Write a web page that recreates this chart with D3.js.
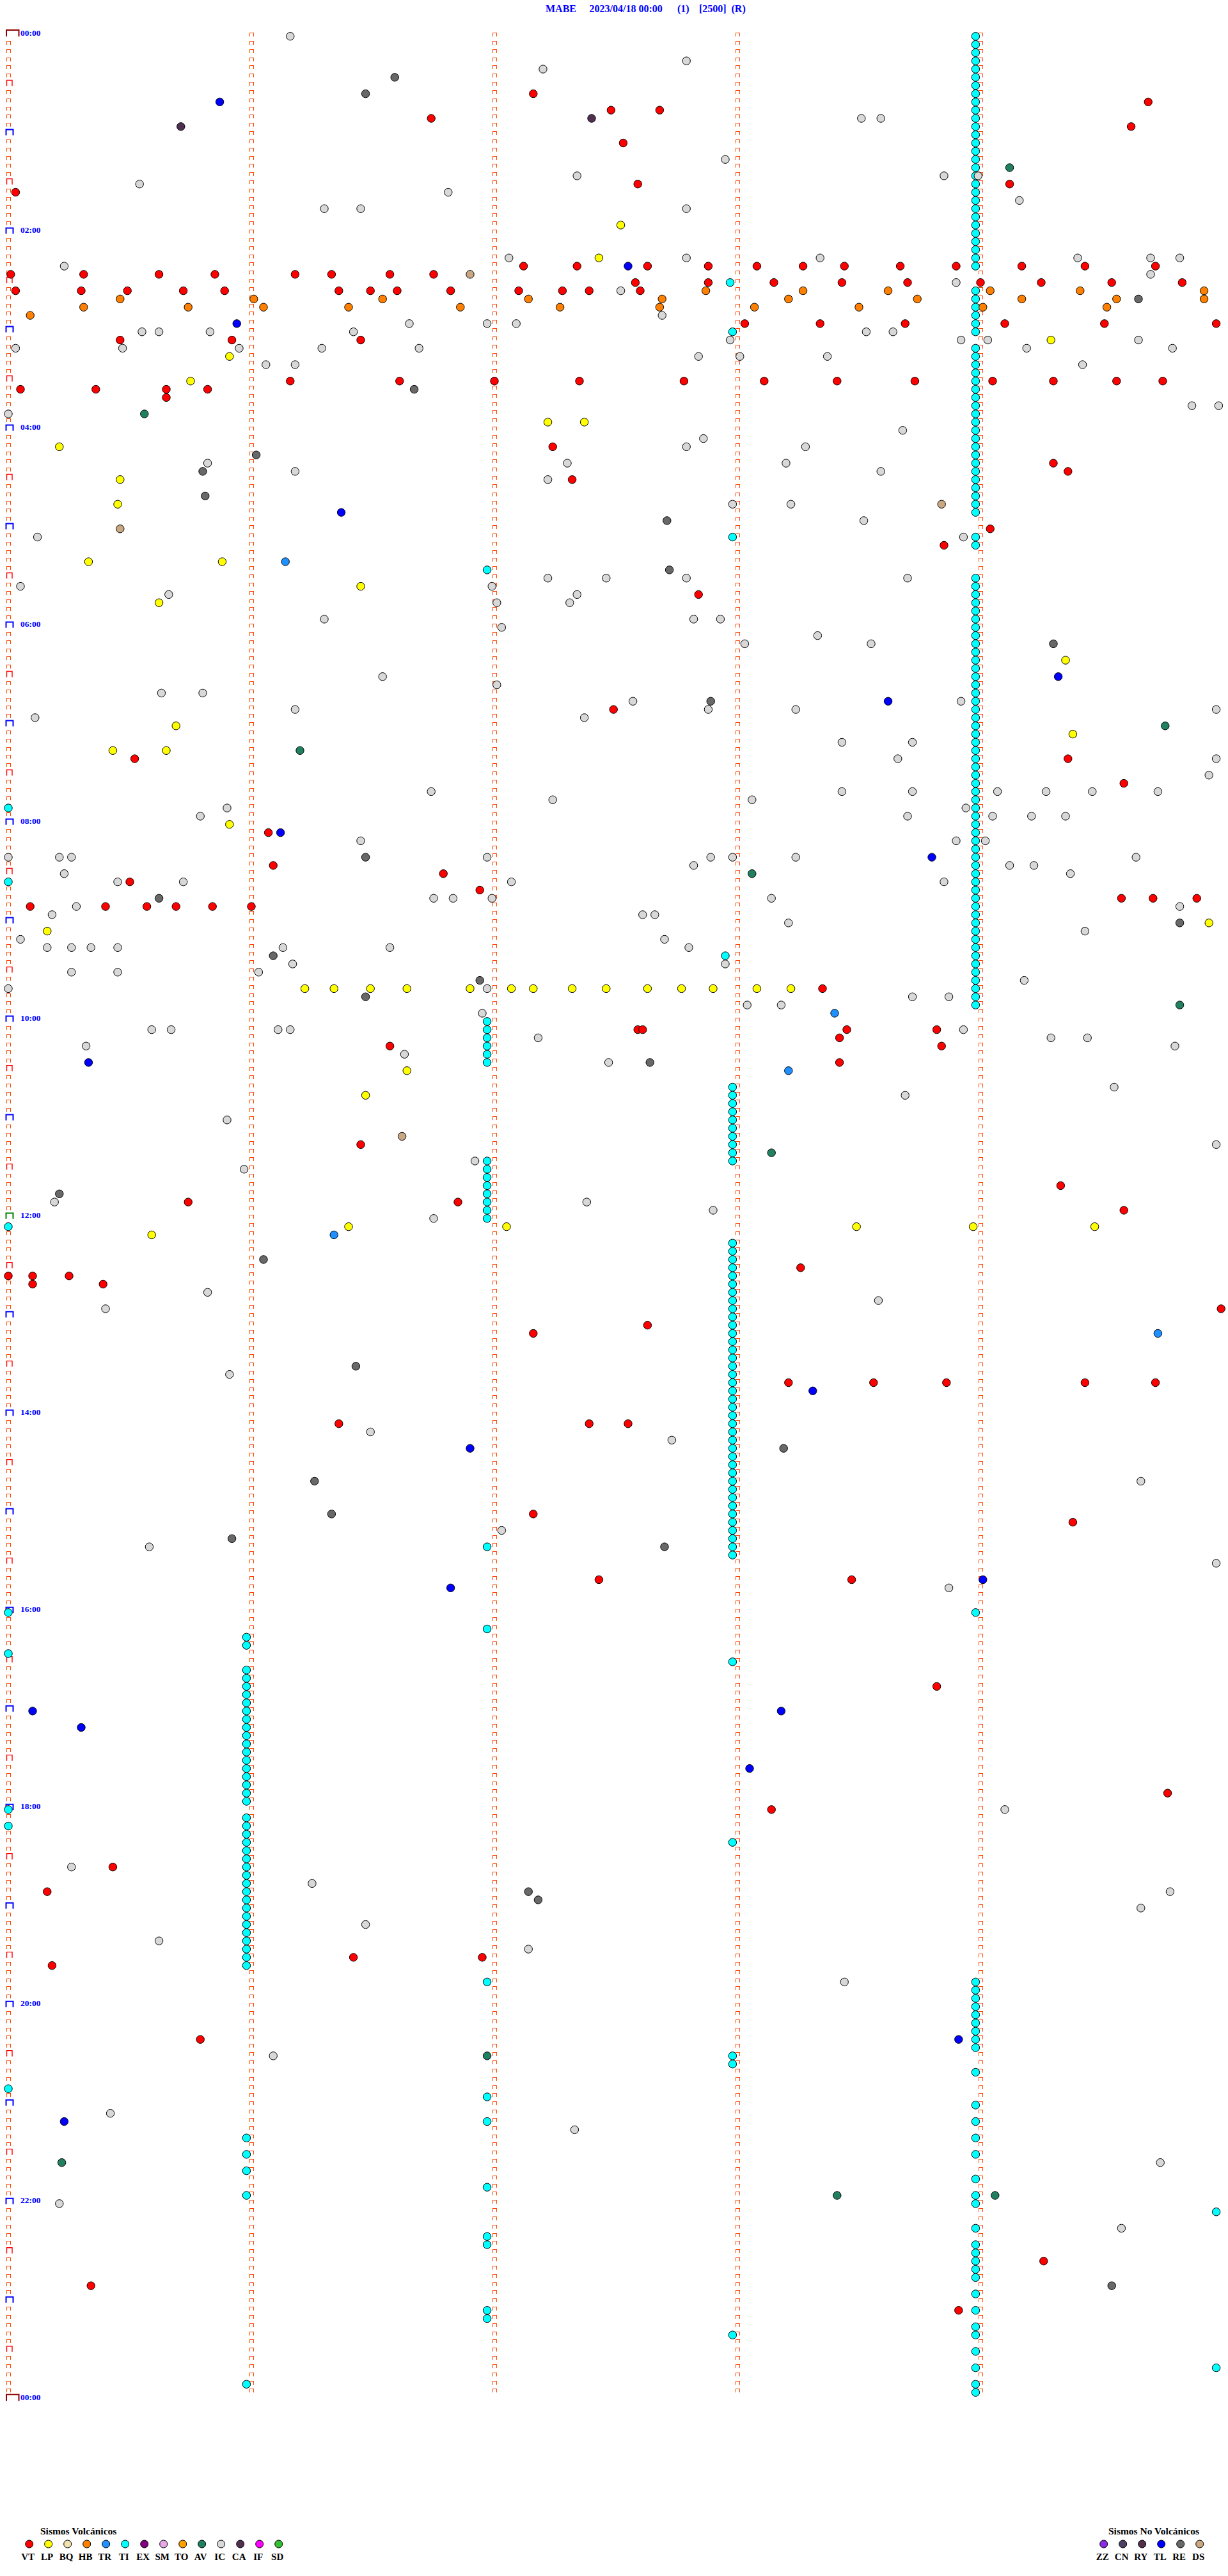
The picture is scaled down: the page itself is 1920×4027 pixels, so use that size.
<!DOCTYPE html>
<html><head><meta charset="utf-8">
<script src="https://cdn.jsdelivr.net/npm/d3@7"></script>
<style>html,body{margin:0;padding:0;background:#fff}svg{display:block}</style>
</head><body>
<script>
// ---------------- data ----------------
const titleParts = ["MABE", "2023/04/18 00:00", "(1)", "[2500]", "(R)"];
const hourLabels = ["00:00","02:00","04:00","06:00","08:00","10:00","12:00","14:00","16:00","18:00","20:00","22:00","00:00"];
const volcanicTypes  = ["VT","LP","BQ","HB","TR","TI","EX","SM","TO","AV","IC","CA","IF","SD"];
const volcanicColors = ["#FF0000","#FFFF00","#F2E2B0","#FF8000","#1E90FF","#00FFFF","#800080","#E8A8E8","#FFA000","#208060","#D8D8D8","#503050","#FF00FF","#30C030"];
const nonVolcanicTypes  = ["ZZ","CN","RY","TL","RE","DS"];
const nonVolcanicColors = ["#8A2BE2","#504060","#503048","#0000FF","#686868","#C8A882"];

// event times, in minutes after 00:00 (each chart row holds 5 minutes)
const VT = [37.16,44.69,47.48,47.68,51.74,59.62,67.53,92.59,94.12,95.03,
 142.12,142.34,142.63,142.88,143.08,143.27,143.44,143.67,143.90,144.17,144.43,144.72,
 145.01,145.31,145.62,145.85,146.18,146.33,146.57,146.75,
 152.58,152.88,153.15,153.43,153.70,154.00,154.25,154.54,154.83,
 155.03,155.30,155.49,155.72,155.89,156.36,156.49,156.60,156.82,157.10,157.28,157.39,157.60,
 178.03,178.34,178.69,179.10,179.51,179.97,185.46,185.92,186.45,
 211.16,211.61,212.00,212.35,212.78,213.11,213.41,213.73,214.05,214.30,214.56,214.75,
 215.05,215.36,215.65,215.82,220.65,252.24,272.32,264.30,269.36,
 304.04,313.85,342.84,412.49,444.36,440.52,459.59,
 486.07,506.09,511.79,521.94,515.50,530.09,530.40,530.57,530.69,530.84,531.00,529.58,529.71,529.89,
 583.35,607.59,607.61,608.45,608.82,613.42,616.57,618.84,628.42,
 676.45,704.33,710.74,711.85,719.59,753.26,755.00,755.10,755.25,760.10,760.39,779.99,787.63,792.16,
 823.21,823.56,823.86,824.43,824.72,846.36,847.39,847.55,902.16,909.38,942.43,943.47,
 1008.82,1074.77,1083.14,1115.43,1130.16,1171.42,1171.95,1175.18,1220.79,1359.26,1370.34,1388.91];
const LP = [117.52,137.43,189.29,195.91,210.75,237.22,237.37,250.21,270.46,285.45,320.33,320.88,336.45,345.62,
 384.35,420.69,429.38,435.43,435.65,480.91,545.16,544.94,
 581.22,581.34,581.49,581.64,581.90,582.07,582.16,582.32,582.46,582.63,582.77,582.90,583.08,583.22,
 631.64,646.47,726.40,727.05,728.49,728.97,729.47,730.59];
const BQ = [];
const HB = [157.87,158.27,158.62,159.04,159.41,159.92,160.46,161.01,161.54,162.14,162.69,163.21,163.74,164.17,164.56,164.92,
 165.31,165.74,166.05,166.40,166.86,167.27,167.68,168.07,168.50,169.01,169.52,170.09];
const TR = [321.14,598.40,633.21,731.34,794.73];
const TI = [3.98,8.98,13.98,18.98,23.98,28.98,33.98,38.98,43.98,48.98,53.98,58.98,63.98,68.98,73.98,78.98,83.98,88.98,93.98,98.98,
 103.98,108.98,113.98,118.98,123.98,128.98,133.98,138.98,143.98,
 158.98,163.98,168.98,173.98,178.98,183.98,
 193.98,198.98,203.98,208.98,213.98,218.98,223.98,228.98,233.98,238.98,243.98,248.98,253.98,258.98,263.98,268.98,273.98,278.98,283.98,288.98,293.98,
 308.98,313.98,
 333.98,338.98,343.98,348.98,353.98,358.98,363.98,368.98,373.98,378.98,383.98,388.98,393.98,398.98,403.98,408.98,413.98,418.98,423.98,428.98,
 433.98,438.98,443.98,448.98,453.98,458.98,463.98,468.98,473.98,478.98,483.98,488.98,493.98,498.98,503.98,508.98,513.98,518.98,523.98,528.98,
 533.98,538.98,543.98,548.98,553.98,558.98,563.98,568.98,573.98,578.98,583.98,588.98,593.98,
 963.98,1188.98,1193.98,1198.98,1203.98,1208.98,1213.98,1218.98,1223.98,1228.98,
 1243.98,1263.98,1273.98,1283.98,1293.98,1308.98,1318.98,1323.98,1338.98,1348.98,1353.98,1358.98,1363.98,1368.98,1378.98,1388.98,1398.98,1403.98,1413.98,1423.98,1433.98,1438.98,
 152.97,182.98,307.98,562.95,
 642.98,647.98,652.98,657.98,662.98,667.98,672.98,677.98,682.98,687.98,
 737.98,742.98,747.98,752.98,757.98,762.98,767.98,772.98,777.98,782.98,787.98,792.98,797.98,802.98,807.98,812.98,817.98,822.98,827.98,832.98,
 837.98,842.98,847.98,852.98,857.98,862.98,867.98,872.98,877.98,882.98,887.98,892.98,897.98,902.98,907.98,912.98,917.98,922.98,927.98,
 992.98,1102.98,1232.98,1237.98,1402.98,
 326.97,601.97,606.97,611.97,616.97,621.97,626.97,686.97,691.97,696.97,701.97,706.97,711.97,716.97,721.97,
 921.97,971.97,1186.97,1256.97,1271.97,1311.97,1341.97,1346.97,1386.97,1391.97,
 975.98,980.98,995.98,1000.98,1005.98,1010.98,1015.98,1020.98,1025.98,1030.98,1035.98,1040.98,1045.98,1050.98,1055.98,1060.98,1065.98,1070.98,1075.98,
 1085.98,1090.98,1095.98,1100.98,1105.98,1110.98,1115.98,1120.98,1125.98,1130.98,1135.98,1140.98,1145.98,1150.98,1155.98,1160.98,1165.98,1170.98,1175.98,
 1280.98,1290.98,1300.98,1315.98,1430.98,
 470.00,515.00,725.00,960.00,985.00,1080.00,1090.00,1250.00,1329.97,1424.97];
const EX = [];
const SM = [];
const TO = [];
const AV = [84.12,230.56,424.76,436.20,513.06,594.82,683.14,1231.97,1295.22,1318.41,1319.06];
const IC = [1.16,17.79,22.20,53.51,53.59,77.95,87.34,88.85,88.99,90.54,96.81,104.16,106.30,106.45,107.79,
 137.06,137.79,138.34,139.40,139.70,139.82,140.23,149.70,153.90,157.52,
 172.69,176.65,176.97,177.09,180.55,180.62,180.83,181.42,183.53,183.64,187.97,188.92,189.03,189.65,
 190.03,190.47,190.95,191.29,191.69,194.19,194.79,197.84,198.01,198.37,201.06,201.18,204.42,
 229.87,229.98,230.00,243.68,247.86,252.79,253.28,260.82,262.30,263.20,266.18,268.59,272.22,
 287.98,288.22,298.52,305.12,308.93,332.22,332.46,332.79,333.70,335.05,336.99,340.66,342.34,347.01,347.31,356.30,357.82,357.93,362.03,368.33,373.03,373.55,
 391.54,397.01,400.63,400.80,407.57,408.92,411.18,412.88,413.24,414.97,415.11,417.37,433.43,433.72,443.66,444.97,454.94,
 461.74,463.43,463.72,464.07,464.27,464.46,464.73,467.24,468.06,470.90,473.94,475.79,478.70,479.05,479.21,479.35,
 491.45,493.90,494.02,500.00,500.21,500.26,501.97,502.89,502.98,503.24,504.64,507.82,509.12,509.22,510.23,514.37,515.45,515.72,517.07,518.85,
 526.75,526.83,526.99,528.14,530.28,534.82,535.18,537.61,537.66,543.21,549.43,550.05,552.70,555.16,555.26,555.34,555.45,556.13,556.57,557.80,
 566.17,567.95,570.26,570.45,571.03,579.18,580.00,581.97,588.72,588.87,593.04,593.18,596.95,
 605.59,605.67,606.11,606.16,608.93,612.18,614.29,614.44,615.32,619.80,621.63,627.47,644.55,648.69,660.90,679.97,686.92,690.97,710.19,712.38,717.90,721.75,
 765.82,773.58,775.40,815.91,851.49,857.73,884.66,912.03,920.58,934.97,948.87,
 1084.10,1115.26,1126.25,1134.78,1144.66,1151.47,1160.62,1167.14,1188.44,1231.09,1265.42,1277.33,1299.74,1320.21,1339.58];
const CA = [52.40,55.71];
const IF = [];
const SD = [];
const ZZ = [];
const CN = [];
const RY = [];
const TL = [40.87,142.55,175.94,291.37,394.32,408.62,486.12,503.80,625.33,828.31,861.90,944.01,946.82,1020.10,1023.18,1030.30,1058.05,1223.91,1270.23];
const RE = [26.59,36.47,164.65,216.67,256.02,265.80,280.81,297.71,327.72,374.30,407.89,501.47,525.62,544.82,561.09,576.94,586.47,627.64,
 705.21,746.05,811.43,863.19,881.26,901.33,915.92,922.70,1132.14,1137.18,1374.54];
const DS = [146.90,288.84,300.46,671.62];

// ---------------- layout ----------------
const W = 1920, H = 4027;
const ROWS = 288, ROW_MIN = 5;
const svg = d3.select("body").append("svg").attr("width", W).attr("height", H)
  .attr("viewBox", `0 0 ${W} ${H}`).style("background", "#fff");
svg.append("rect").attr("width", W).attr("height", H).attr("fill", "#fff");

const x = d3.scaleLinear().domain([0, ROW_MIN]).range([13, 13 + 380 * ROW_MIN]);   // minutes inside a row
const yc = d3.scaleLinear().domain([0, ROWS]).range([56.7, 56.7 + 12.834 * ROWS]); // row centre
const markTop = r => yc(r) - 5.2;

// title
const titleX = [853, 921.5, 1059, 1093, 1143.5];
svg.append("g").selectAll("text").data(titleParts).join("text")
  .attr("x", (d, i) => titleX[i]).attr("y", 18.5)
  .attr("font-family", "'Liberation Serif','Times New Roman',serif").attr("font-weight", "bold")
  .attr("font-size", 16).attr("fill", "#0000FF").text(d => d);

// minute markers
const gM = svg.append("g").attr("fill", "none");
const cols = d3.range(0, ROW_MIN);
let small = "";
for (let r = 0; r < ROWS; r++) {
  for (const k of cols) {
    if (k === 0 && r % 6 === 0) continue;
    const cx = x(k), t = markTop(r);
    small += `M${cx - 3},${t + 5.5}V${t}H${cx + 3}V${t + 5.5}`;
  }
}
gM.append("path").attr("d", small).attr("stroke", "#FF4500").attr("stroke-width", 1).attr("shape-rendering", "crispEdges");
// half-hour & hour brackets on the first column
for (let r = 6; r < ROWS; r += 6) {
  const cx = x(0), t = markTop(r) - 3;
  const hour = r % 12 === 0;
  gM.append("path")
    .attr("d", hour ? `M${cx - 3.5},${t + 9}V${t}H${cx + 7.5}V${t + 9}` : `M${cx - 2.5},${t + 9}V${t}H${cx + 6}V${t + 9}`)
    .attr("stroke", hour ? (r === 144 ? "#008000" : "#0000FF") : "#FF0000")
    .attr("stroke-width", hour ? 2 : 1.4);
}
// day start / end brackets
for (const r of [0, ROWS]) {
  const t = markTop(r) - 4.5;
  gM.append("path").attr("d", `M${x(0) - 3},${t + 10}V${t}H${x(0) + 16.5}V${t + 10}`)
    .attr("stroke", "#8B0000").attr("stroke-width", 2);
}
// time labels
svg.append("g").selectAll("text").data(hourLabels).join("text")
  .attr("x", 32).attr("y", (d, i) => markTop(i * 24) + 4.8)
  .attr("font-family", "'Liberation Serif','Times New Roman',serif").attr("font-weight", "bold")
  .attr("font-size", 13.5).attr("fill", "#0000FF").text(d => d);

// events
const typeData = {VT, LP, BQ, HB, TR, TI, EX, SM, TO, AV, IC, CA, IF, SD, ZZ, CN, RY, TL, RE, DS};
const colorOf = {};
volcanicTypes.forEach((t, i) => colorOf[t] = volcanicColors[i]);
nonVolcanicTypes.forEach((t, i) => colorOf[t] = nonVolcanicColors[i]);
const order = ["TI", "IC", "RE", "DS", "BQ", "AV", "CA", "CN", "RY", "ZZ", "EX", "SM", "IF", "SD", "TR", "TL", "TO", "HB", "LP", "VT"];
const events = [];
order.forEach(tp => typeData[tp].forEach(t => {
  const row = Math.floor(t / ROW_MIN + 1e-9);
  events.push({type: tp, row, m: t - row * ROW_MIN});
}));
svg.append("g").selectAll("circle").data(events).join("circle")
  .attr("cx", d => x(d.m)).attr("cy", d => yc(d.row)).attr("r", 6.2)
  .attr("fill", d => colorOf[d.type]).attr("stroke", "#000").attr("stroke-width", 1);

// legends
function legend(types, colors, title, x0, tx) {
  const g = svg.append("g").attr("font-family", "'Liberation Serif','Times New Roman',serif").attr("font-weight", "bold");
  g.append("text").attr("x", tx).attr("y", 3962).attr("font-size", 15.5).attr("fill", "#000").text(title);
  g.selectAll("circle").data(types).join("circle")
    .attr("cx", (d, i) => x0 + 30 * i).attr("cy", 3977).attr("r", 6)
    .attr("fill", (d, i) => colors[i]).attr("stroke", "#000").attr("stroke-width", 1);
  g.selectAll("text.l").data(types).join("text").attr("class", "l")
    .attr("x", (d, i) => x0 + 30 * i - 2).attr("y", 4002).attr("text-anchor", "middle")
    .attr("font-size", 15).attr("fill", "#000").text(d => d);
}
legend(volcanicTypes, volcanicColors, "Sismos Volcánicos", 45.7, 63);
legend(nonVolcanicTypes, nonVolcanicColors, "Sismos No Volcánicos", 1725.7, 1733);
</script>
</body></html>
